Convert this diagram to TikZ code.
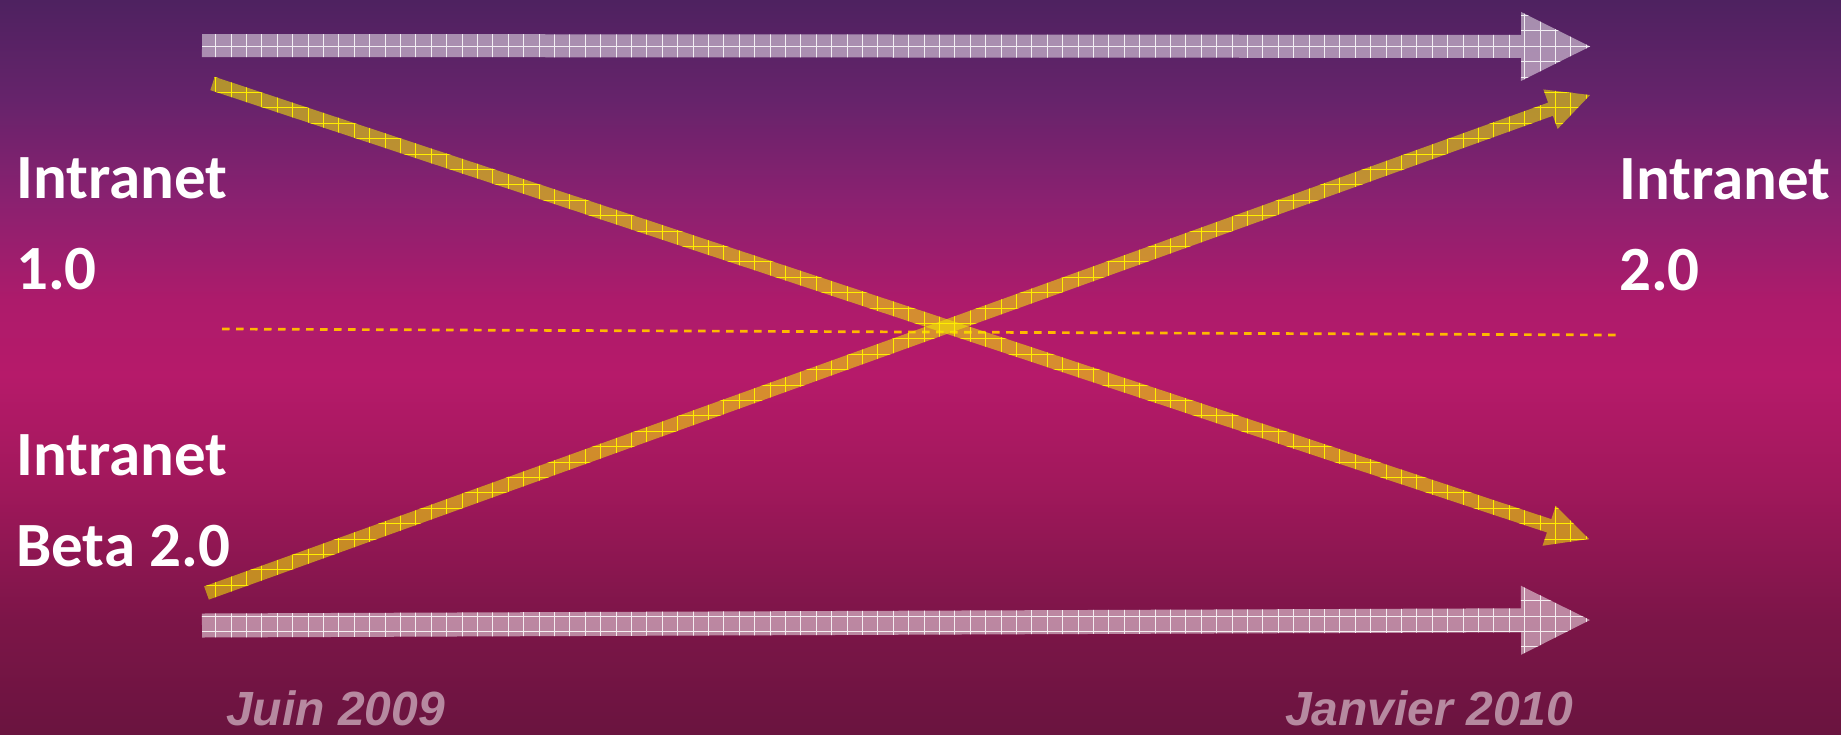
\documentclass[tikz,border=0pt]{standalone}
\usepackage{fontspec}
\setmainfont{Carlito}
\newfontfamily\datefont{Liberation Sans}
\usetikzlibrary{calc}

\definecolor{bg0}{HTML}{6A143F}
\definecolor{bg1}{HTML}{7C1548}
\definecolor{bg2}{HTML}{A2185C}
\definecolor{bg3}{HTML}{B61A6A}
\definecolor{bg4}{HTML}{AD1B6B}
\definecolor{bg5}{HTML}{8A2170}
\definecolor{bg6}{HTML}{66236B}
\definecolor{bg7}{HTML}{4E2260}
\definecolor{barfill}{HTML}{F4EC00}
\definecolor{gridyellow}{HTML}{FFEE00}
\definecolor{dashorange}{HTML}{FFB800}

% the picture covers 25bp..75bp of the shading
\pgfdeclareverticalshading{slidebg}{100bp}{color(0bp)=(bg0); color(25bp)=(bg0);
  color(32.75bp)=(bg1); color(42.3bp)=(bg2); color(49.45bp)=(bg3);
  color(54.55bp)=(bg4); color(61.4bp)=(bg5); color(68.2bp)=(bg6);
  color(75bp)=(bg7); color(100bp)=(bg7)}

% outline of a block arrow: start, tip, shaft half width, head half width
\newcommand{\arrowoutline}[4]{($(#1)!#3!90:(#2)$) -- ($(#1-neck)!#3!90:(#2)$)
  -- ($(#1-neck)!#4!90:(#2)$) -- (#2) -- ($(#1-neck)!#4!-90:(#2)$)
  -- ($(#1-neck)!#3!-90:(#2)$) -- ($(#1)!#3!-90:(#2)$) -- cycle}

% block arrow with a grid texture: start, tip, shaft, head, head length, fill, grid
\newcommand{\blockarrow}[7]{%
  \coordinate (#1-neck) at ($(#2)!#5!(#1)$);
  \fill[#6] \arrowoutline{#1}{#2}{#3}{#4};
  \begin{scope}
    \clip \arrowoutline{#1}{#2}{#3}{#4};
    \draw[#7] (0,0) grid (1841,734);
  \end{scope}}

\begin{document}
\begin{tikzpicture}[
  x=1pt, y=-1pt,
  title/.style={text=white, font=\bfseries\fontsize{63}{91}\selectfont, align=left, inner sep=0pt, anchor=north west},
  datelabel/.style={text=white, text opacity=0.5, font=\datefont\bfseries\itshape\fontsize{48}{58}\selectfont, inner sep=0pt, anchor=base west},
  paleband/.style={fill=white, fill opacity=0.49},
  palegrid/.style={draw=white, draw opacity=0.85, line width=1pt, step=15.4pt},
  goldband/.style={fill=barfill, fill opacity=0.55},
  goldgrid/.style={draw=gridyellow, line width=1pt, step=15.4pt},
  midline/.style={draw=dashorange, line width=2.7pt, dash pattern=on 7.5pt off 6.5pt}
]
\useasboundingbox (0,0) rectangle (1841,734);
\shade[shading=slidebg] (0,0) rectangle (1841,734);

\coordinate (oldstart) at (202,45.5);
\coordinate (oldend) at (1590,46.5);
\coordinate (betastart) at (202,625.5);
\coordinate (betaend) at (1590,620);
\coordinate (dropstart) at (212.5,83.5);
\coordinate (dropend) at (1589,539);
\coordinate (risestart) at (206.5,593);
\coordinate (riseend) at (1590,95);
\coordinate (midleft) at (222,329);
\coordinate (midright) at (1616,335);

\draw[midline] (midleft) -- (midright);

\blockarrow{oldstart}{oldend}{11.5pt}{34.5pt}{69pt}{paleband}{palegrid}
\blockarrow{betastart}{betaend}{12pt}{34.5pt}{69pt}{paleband}{palegrid}
\blockarrow{dropstart}{dropend}{7pt}{21pt}{42pt}{goldband}{goldgrid}
\blockarrow{risestart}{riseend}{7pt}{21pt}{42pt}{goldband}{goldgrid}

\node[title] (oldname) at (16,157) {Intranet\\1.0};
\node[title] (betaname) at (16,434) {Intranet\\Beta 2.0};
\node[title] (newname) at (1619,158) {Intranet\\2.0};
\node[datelabel] (startdate) at (226,725) {Juin 2009};
\node[datelabel] (enddate) at (1285,725) {Janvier 2010};
\end{tikzpicture}
\end{document}
